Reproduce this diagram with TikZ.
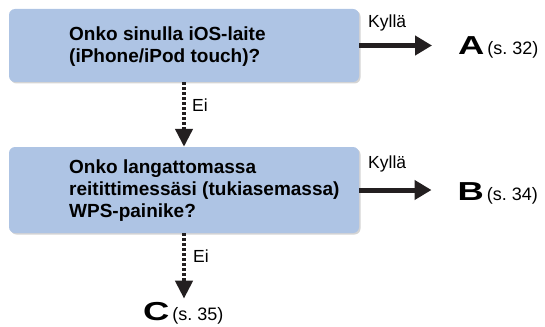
\documentclass[tikz,border=0pt]{standalone}
\usepackage{fontspec}
\setmainfont{Liberation Sans}
\usetikzlibrary{arrows.meta,shadows,calc}
\definecolor{boxblue}{RGB}{174,196,228}
\definecolor{shadowgray}{RGB}{212,212,212}
\definecolor{ink}{RGB}{35,31,32}
\newcommand\bigletter[1]{\scalebox{1.4}[1]{\fontsize{26}{26}\selectfont\bfseries #1}}
\newcommand\destpage[1]{{\fontsize{18}{20}\selectfont(s.~#1)}}
\begin{document}
\begin{tikzpicture}[x=1pt,y=-1pt,
  qbox/.style={draw=none, fill=boxblue, rounded corners=6pt, minimum width=350pt, inner sep=0pt,
    drop shadow={shadow xshift=1.5pt, shadow yshift=-1.5pt, fill=shadowgray, opacity=1}},
  qtext/.style={anchor=base west, align=left, font=\fontsize{19}{22}\selectfont\bfseries, inner sep=0pt},
  lbl/.style={anchor=base west, font=\fontsize{17.5}{20}\selectfont, inner sep=0pt},
  yesarrow/.style={draw=ink, line width=5pt, -{Triangle[length=17pt,width=19pt]}, shorten >=26pt},
  noarrow/.style={draw=ink, line width=4.3pt, dash pattern=on 3pt off 2pt, -{Triangle[length=18pt,width=17pt]}},
  dest/.style={anchor=base west, inner sep=0pt}]
\useasboundingbox (0,0) rectangle (545,326);

% question boxes (text anchored at the baseline of its last line)
\node[qbox, minimum height=73pt] (q1) at (184,45.5) {};
\node[qtext] (t1) at (69,63) {Onko sinulla iOS-laite\\(iPhone/iPod touch)?};
\node[qbox, minimum height=86pt] (q2) at (184,190) {};
\node[qtext] (t2) at (69,217) {Onko langattomassa\\reitittimessäsi (tukiasemassa)\\WPS-painike?};

\node[dest] (a) at (458,55) {\bigletter{A}\hspace{3pt}\destpage{32}};
\node[dest] (b) at (457.5,200) {\bigletter{B}\hspace{3pt}\destpage{34}};
\node[dest] (c) at (143,320) {\bigletter{C}\hspace{3pt}\destpage{35}};

\draw[yesarrow] (q1.east) -- (q1.east -| a.west);
\draw[yesarrow] (q2.east) -- (q2.east -| b.west);
\draw[noarrow] (q1.south) -- (q2.north);
\draw[noarrow, shorten >=3pt] (q2.south) -- (q2.south |- c.north);

\node[lbl] (k1) at (368,28) {Kyllä};
\node[lbl] (k2) at (368,168) {Kyllä};
\node[lbl] (e1) at (192,111) {Ei};
\node[lbl] (e2) at (193,262) {Ei};
\end{tikzpicture}
\end{document}
